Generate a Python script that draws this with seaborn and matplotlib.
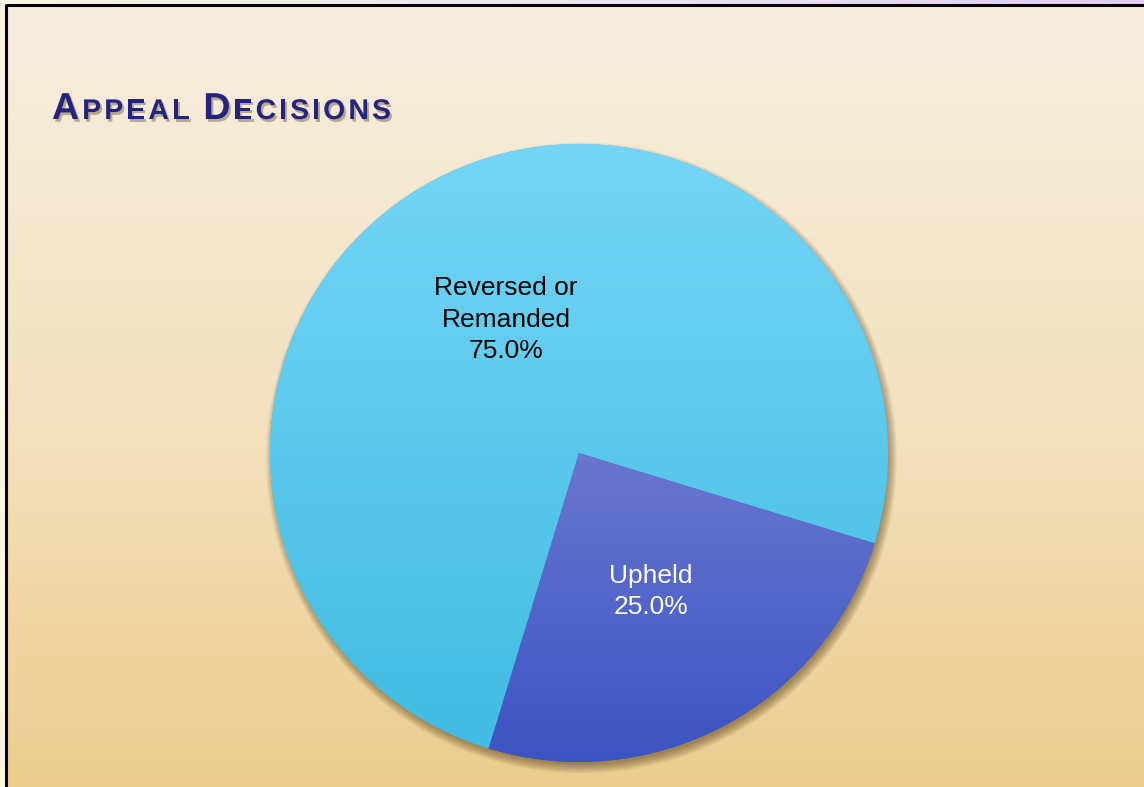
import numpy as np
import matplotlib.pyplot as plt
import matplotlib.patheffects as pe
from matplotlib.colors import LinearSegmentedColormap
from matplotlib.offsetbox import TextArea, HPacker, AnchoredOffsetbox
import seaborn as sns

sns.set_theme(style="white")
plt.rcParams['font.family'] = ['Liberation Sans', 'DejaVu Sans']

# data
categories = ["Reversed or\nRemanded", "Upheld"]
shares = [75.0, 25.0]
# wedge gradients (top colour, bottom colour)
wedge_grads = [("#75D5F7", "#41BCE2"), ("#6A77CF", "#3A52C2")]
label_colors = ["black", "white"]
title_text = "Appeal Decisions"

fig = plt.figure(figsize=(11.44, 7.87), dpi=100)

# slide background
bg = fig.add_axes([0, 0, 1, 1])
bg.set_xlim(0, 1144)
bg.set_ylim(787, 0)
bg.axis('off')
grad = np.linspace(0, 1, 256).reshape(-1, 1)
bg_cmap = LinearSegmentedColormap.from_list("bg", ["#F8EEE0", "#F3E2C2", "#ECCD8E"])
bg.imshow(grad, cmap=bg_cmap, aspect='auto', extent=[0, 1144, 787, 0], zorder=0)
# outer strips
bg.add_patch(plt.Rectangle((0, 0), 5, 787, color="#FBF5E6", zorder=1, lw=0))
top_cmap = LinearSegmentedColormap.from_list("top", ["#FBF5E6", "#EEE4F0", "#DFCFF6"])
bg.imshow(np.linspace(0, 1, 256).reshape(1, -1), cmap=top_cmap, aspect='auto',
          extent=[5, 1144, 4, 0], zorder=1)
bg.plot([5.5, 1144], [4.5, 4.5], color="black", lw=2.2, zorder=2, solid_capstyle='butt')
bg.plot([5.5, 5.5], [4, 787], color="black", lw=2.2, zorder=2, solid_capstyle='butt')

# title in small caps, letter-spaced
shadow = [pe.withSimplePatchShadow(offset=(1.5, -2), shadow_rgbFace="#6b5a3a", alpha=0.45)]
tprops_big = dict(color="#24247F", fontsize=27, fontweight='bold', path_effects=shadow)
tprops_small = dict(tprops_big, fontsize=20.5)
children = []
for word in title_text.split():
    for i, ch in enumerate(word):
        props = tprops_big if i == 0 else tprops_small
        children.append(TextArea(ch.upper(), textprops=props))
    children.append(TextArea(" ", textprops=tprops_small))
children = children[:-1]
box = HPacker(children=children, align="baseline", pad=0, sep=2.2)
anch = AnchoredOffsetbox(loc='lower left', child=box, pad=0, frameon=False,
                         bbox_to_anchor=(52 / 1144, 1 - 127 / 787), bbox_transform=fig.transFigure,
                         borderpad=0)
bg.add_artist(anch)

# pie
cx, cy, r = 579, 453, 309
pad = 1.1
ax = fig.add_axes([(cx - r * pad) / 1144, 1 - (cy + r * pad) / 787, 2 * r * pad / 1144, 2 * r * pad / 787])
ax.patch.set_alpha(0)

# soft shadow under the pie
for k in range(12):
    sh = plt.Circle((0.008, -0.016), 0.99 + k * 0.0028, color="#4a3510", alpha=0.05, lw=0, zorder=0)
    ax.add_patch(sh)

wedges, texts = ax.pie(shares, startangle=-17, counterclock=True,
                       colors=[g[1] for g in wedge_grads],
                       wedgeprops=dict(linewidth=0), radius=1.0)
for t in texts:
    t.set_visible(False)

for w, (c_top, c_bot) in zip(wedges, wedge_grads):
    w.set_zorder(2)
    cm = LinearSegmentedColormap.from_list("w", [c_top, c_bot])
    path = w.get_path()
    ymin, ymax = path.vertices[:, 1].min(), path.vertices[:, 1].max()
    im = ax.imshow(np.linspace(0, 1, 256).reshape(-1, 1), cmap=cm, aspect='auto',
                   extent=[-1, 1, ymin, ymax], zorder=3)
    im.set_clip_path(w)

# labels
label_pos = [(-0.236, 0.432), (0.232, -0.449)]
for cat, val, (lx, ly), col in zip(categories, shares, label_pos, label_colors):
    ax.text(lx, ly, f"{cat}\n{val:.1f}%", ha='center', va='center', fontsize=19,
            color=col, linespacing=1.38, zorder=5)

ax.set_xlim(-pad, pad)
ax.set_ylim(-pad, pad)
ax.set_aspect('auto')
ax.axis('off')

fig.savefig("out.png", dpi=100)
